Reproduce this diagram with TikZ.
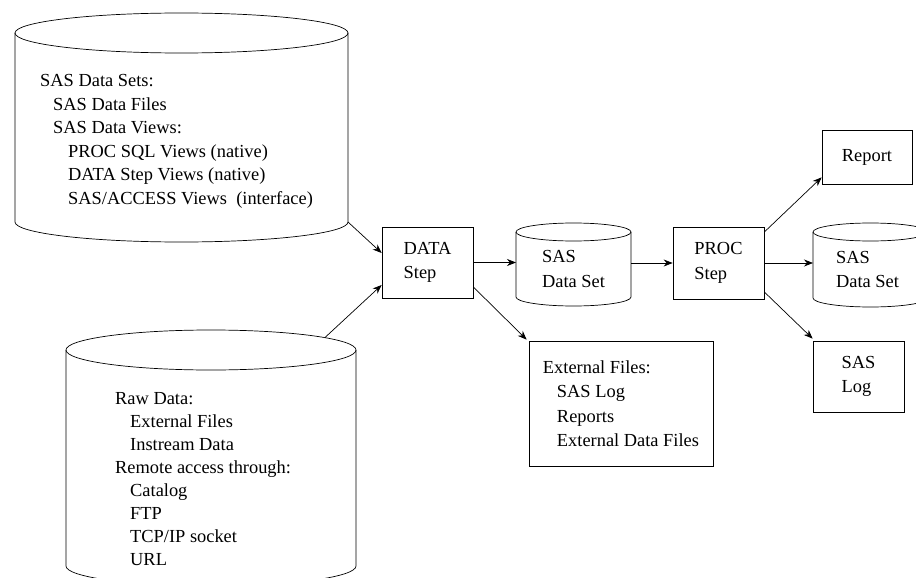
\documentclass[tikz,border=0pt]{standalone}
\usepackage{fontspec}
\setmainfont{Liberation Serif}
\usetikzlibrary{arrows.meta}
\begin{document}
\begin{tikzpicture}[x=1pt,y=-1pt,
  every node/.style={font=\fontsize{18.4}{23.4}\selectfont, inner sep=0pt},
  line/.style={line width=0.7pt},
  arr/.style={line width=0.7pt, -{Stealth[length=9pt,width=7pt]}},
  box/.style={draw, line width=0.7pt, align=left, font=\fontsize{18.4}{24.5}\selectfont},
  ctext/.style={align=left, font=\fontsize{18.4}{24.5}\selectfont},
  txt/.style={anchor=base west}]
\useasboundingbox (0,0) rectangle (916,578);

% ---- top-left cylinder: SAS data sets
\draw[line] (181.5,33) ellipse [x radius=166.5, y radius=20];
\draw[line] (15,33) -- (15,222) arc[start angle=180, end angle=0, x radius=166.5, y radius=20] -- (348,33);
\coordinate (sdc) at (348,222);
\node[txt] (s1) at (40,87) {SAS Data Sets:};
\node[txt] (s2) at (53,110.4) {SAS Data Files};
\node[txt] (s3) at (53,133.8) {SAS Data Views:};
\node[txt] (s4) at (68,157.2) {PROC SQL Views (native)};
\node[txt] (s5) at (68,180.6) {DATA Step Views (native)};
\node[txt] (s6) at (68,204) {SAS/ACCESS Views~ (interface)};

% ---- bottom-left cylinder: raw data
\draw[line] (211,350) ellipse [x radius=145, y radius=20];
\draw[line] (66,350) -- (66,566) arc[start angle=180, end angle=0, x radius=145, y radius=20] -- (356,350);
\coordinate (rawc) at (325,337.5);
\node[txt] (r1) at (115,404) {Raw Data:};
\node[txt] (r2) at (130,427) {External Files};
\node[txt] (r3) at (130,450) {Instream Data};
\node[txt] (r4) at (115,473) {Remote access through:};
\node[txt] (r5) at (130,496) {Catalog};
\node[txt] (r6) at (130,519) {FTP};
\node[txt] (r7) at (130,542) {TCP/IP socket};
\node[txt] (r8) at (130,565) {URL};

% ---- boxes
\node[box, minimum width=91pt, minimum height=71pt] (data) at (427.5,262.5) {DATA\\Step};
\node[box, minimum width=91pt, minimum height=72pt] (proc) at (718.5,263) {PROC\\Step};
\node[box, minimum width=184pt, minimum height=125pt] (ext) at (621,403.5)
  {External Files:\\\hspace*{14pt}SAS Log\\\hspace*{14pt}Reports\\\hspace*{14pt}External Data Files};
\node[box, minimum width=90pt, minimum height=54pt] (report) at (867,157) {Report};
\node[box, minimum width=91pt, minimum height=71pt] (log) at (858.5,376.5) {SAS\\Log};

% ---- middle cylinder
\draw[line] (573.5,232) ellipse [x radius=57.5, y radius=9];
\draw[line] (516,232) -- (516,297) arc[start angle=180, end angle=0, x radius=57.5, y radius=9] -- (631,232);
\node[ctext] (ds1) at (573.5,269) {SAS\\Data Set};
\coordinate (ds1w) at (516,262.5);
\coordinate (ds1e) at (631,263);

% ---- right cylinder
\draw[line] (870.5,232) ellipse [x radius=57.5, y radius=9];
\draw[line] (813,232) -- (813,298) arc[start angle=180, end angle=0, x radius=57.5, y radius=9] -- (928,232);
\node[ctext] (ds2) at (867.5,269.5) {SAS\\Data Set};
\coordinate (ds2w) at (813,263);

% ---- connectors
\draw[arr] (sdc) -- ([yshift=9.5pt]data.west);
\draw[arr] (rawc) -- ([yshift=-22.5pt]data.west);
\draw[arr] (data.east) -- (ds1w);
\draw[arr] ([yshift=-24.5pt]data.east) -- ([xshift=-2pt,yshift=1pt]ext.north west);
\draw[arr] (ds1e) -- (proc.west);
\draw[arr] ([yshift=31pt]proc.east) -- ([yshift=7pt]report.south west);
\draw[arr] (proc.east) -- (ds2w);
\draw[arr] ([yshift=-29pt]proc.east) -- ([yshift=2pt]log.north west);
\end{tikzpicture}
\end{document}
